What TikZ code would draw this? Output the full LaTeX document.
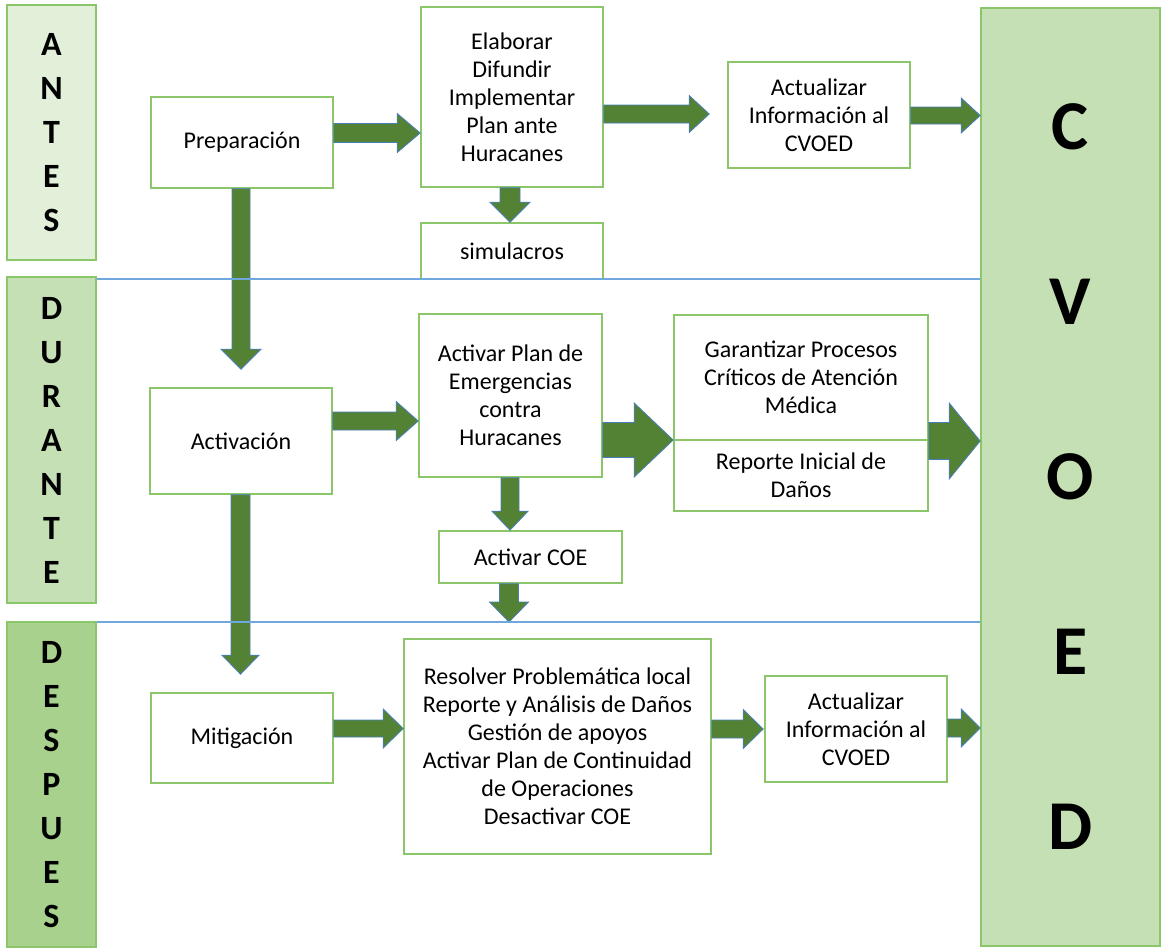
\documentclass[tikz,border=0pt]{standalone}
\usepackage{fontspec}
\setmainfont{Carlito}
\usetikzlibrary{calc}
\definecolor{arrowgreen}{HTML}{548235}
\definecolor{arrowedge}{HTML}{4A7EBB}
\definecolor{boxgreen}{HTML}{8CC66B}
\definecolor{antesfill}{HTML}{E2F0D9}
\definecolor{durfill}{HTML}{C5E0B4}
\definecolor{despfill}{HTML}{A9D18E}
\definecolor{sepblue}{HTML}{6FA8DC}
\tikzset{
  box/.style={draw=boxgreen, fill=white, line width=0.8pt, align=center, inner sep=0pt,
    font=\fontsize{12}{14}\selectfont},
  phase/.style={draw=boxgreen, line width=0.8pt, align=center, inner sep=0pt,
    font=\bfseries\fontsize{17}{22}\selectfont},
  bigbar/.style={draw=boxgreen, fill=durfill, line width=0.8pt, align=center, inner sep=0pt,
    font=\bfseries\fontsize{35}{87.5}\selectfont},
  barrow/.style={fill=arrowgreen, draw=arrowedge, line width=0.4pt, line join=miter},
  sepline/.style={draw=sepblue, line width=0.8pt}
}
% #1 name, #2 x1, #3 y1, #4 x2, #5 y2, #6 style, #7 text
\newcommand\mybox[7]{\node[#6, minimum width={(#4-#2)*0.5pt}, minimum height={(#5-#3)*0.5pt}] (#1) at ({(#2+#4)/2},{(#3+#5)/2}) {#7};}
% horizontal block arrow: #1 start, #2 tip target, #3 shaft half, #4 head half, #5 head length
\newcommand\harr[5]{\draw[barrow] ($(#1)+(0,-#3)$) -- ($(#1 -| #2)+(-#5,-#3)$) -- ($(#1 -| #2)+(-#5,-#4)$) -- (#1 -| #2) -- ($(#1 -| #2)+(-#5,#4)$) -- ($(#1 -| #2)+(-#5,#3)$) -- ($(#1)+(0,#3)$) -- cycle;}
% vertical block arrow (downwards)
\newcommand\varr[5]{\draw[barrow] ($(#1)+(-#3,0)$) -- ($(#1 |- #2)+(-#3,-#5)$) -- ($(#1 |- #2)+(-#4,-#5)$) -- (#1 |- #2) -- ($(#1 |- #2)+(#4,-#5)$) -- ($(#1 |- #2)+(#3,-#5)$) -- ($(#1)+(#3,0)$) -- cycle;}
\begin{document}
\begin{tikzpicture}[x=0.5pt,y=-0.5pt]
\useasboundingbox (0,0) rectangle (1162,948);
% phase bars
\mybox{antes}{7}{5}{96}{260}{phase, fill=antesfill}{A\\N\\T\\E\\S}
\mybox{durante}{7}{277}{96}{603}{phase, fill=durfill}{D\\U\\R\\A\\N\\T\\E}
\mybox{despues}{7}{622}{96}{947}{phase, fill=despfill}{D\\E\\S\\P\\U\\E\\S}
\mybox{cvoed}{981}{8}{1160}{946}{bigbar}{C\\V\\O\\E\\D}
% boxes
\mybox{prep}{151}{97}{333}{188}{box}{Preparación}
\mybox{elab}{421}{7}{603}{187}{box}{Elaborar\\Difundir\\Implementar\\Plan ante\\Huracanes}
\mybox{simul}{421}{223}{603}{279}{box}{simulacros}
\mybox{act1}{728}{62}{910}{168}{box}{Actualizar\\Información al\\CVOED}
\mybox{activ}{150}{388}{332}{494}{box}{Activación}
\mybox{actplan}{419}{314}{602}{477}{box}{Activar Plan de\\Emergencias\\contra\\Huracanes}
\mybox{garA}{674}{315}{928}{440}{box}{Garantizar Procesos\\Críticos de Atención\\Médica}
\mybox{garB}{674}{440}{928}{511}{box}{Reporte Inicial de\\Daños}
\mybox{coe}{439}{531}{622}{583}{box}{Activar COE}
\mybox{mitig}{151}{693}{333}{783}{box}{Mitigación}
\mybox{resolv}{404}{639}{711}{854}{box}{Resolver Problemática local\\Reporte y Análisis de Daños\\Gestión de apoyos\\Activar Plan de Continuidad\\de Operaciones\\Desactivar COE}
\mybox{act2}{765}{676}{947}{782}{box}{Actualizar\\Información al\\CVOED}
% arrow anchor coordinates
\coordinate (s1) at (prep.east |- 0,133);
\coordinate (s2) at (elab.east |- 0,114);
\coordinate (t2) at ($(act1.west)+(-18,0)$);
\coordinate (s3) at (act1.east |- 0,115.5);
\coordinate (s4) at (241,0 |- prep.south);
\coordinate (t4) at ($(activ.north)+(0,-18)$);
\coordinate (s5) at (510,0 |- elab.south);
\coordinate (s6) at (activ.east |- 0,421);
\coordinate (s7) at (actplan.east |- 0,440);
\coordinate (s8) at (garA.east |- 0,441);
\coordinate (s9) at (510,0 |- actplan.south);
\coordinate (s10) at (509,0 |- coe.south);
\coordinate (t10) at (509,622);
\coordinate (s11) at (240.5,0 |- activ.south);
\coordinate (t11) at ($(mitig.north)+(0,-18)$);
\coordinate (s12) at (mitig.east |- 0,728.5);
\coordinate (s13) at (resolv.east |- 0,729);
\coordinate (t13) at ($(act2.west)+(-1,0)$);
\coordinate (s14) at (act2.east |- 0,728);
% arrows
\harr{s1}{elab.west}{9.5}{19.5}{23}
\harr{s2}{t2}{9}{18.5}{20}
\harr{s3}{cvoed.west}{8.5}{17.5}{19}
\varr{s4}{t4}{9}{20}{20}
\varr{s5}{simul.north}{10}{20}{20}
\harr{s6}{actplan.west}{9}{19.5}{22}
\harr{s7}{garA.west}{17.5}{37}{39}
\harr{s8}{cvoed.west}{18.5}{38}{31}
\varr{s9}{coe.north}{9}{18}{19}
\varr{s10}{t10}{9.5}{19.5}{20}
\varr{s11}{t11}{9.5}{18.5}{19}
\harr{s12}{resolv.west}{8.5}{19.5}{20}
\harr{s13}{t13}{9}{19.5}{20}
\harr{s14}{cvoed.west}{9}{19}{19}
% separator lines
\draw[sepline] (antes.east |- 0,279) -- (cvoed.west |- 0,279);
\draw[sepline] (antes.east |- 0,622) -- (cvoed.west |- 0,622);
\end{tikzpicture}
\end{document}
